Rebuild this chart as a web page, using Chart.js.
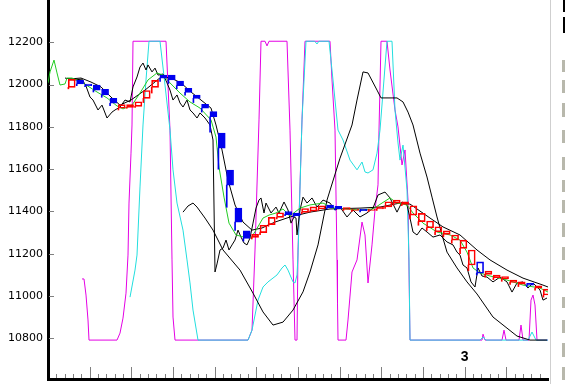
<!DOCTYPE html>
<html>
<head>
<meta charset="utf-8">
<script src="https://cdn.jsdelivr.net/npm/chart.js@4.4.1/dist/chart.umd.min.js"></script>
<style>
    html, body { margin: 0; padding: 0; background: #fff; }
    #wrap { width: 565px; height: 384px; }
</style>
</head>
<body>
<div id="wrap"><canvas id="chart" width="565" height="384"></canvas></div>
<script>
// y axis labels
const yTicks = [10800, 11000, 11200, 11400, 11600, 11800, 12000, 12200];
// date label on the time axis (axis unit = one bar)
const dayLabelAt = [50];
const dayLabelText = ['3'];

// candles
const candleX = [2.85, 3.85, 4.85, 5.85, 6.85, 7.85, 8.85, 9.85, 10.85, 11.85,
    12.85, 13.85, 14.85, 15.85, 16.85, 17.85, 18.85, 19.85, 20.85, 21.85,
    22.85, 23.85, 24.85, 25.85, 26.85, 27.85, 28.85, 29.85, 30.85, 31.85,
    32.85, 33.85, 34.85, 35.85, 36.85, 37.85, 38.85, 39.85, 40.85, 41.85,
    42.85, 43.85, 44.85, 45.85, 46.85, 47.85, 48.85, 49.85, 50.85, 51.85,
    52.85, 53.85, 54.85, 55.85, 56.85, 57.85, 58.85, 59.85];
const candleTop = [12025, 12020, 12003, 11998, 11978, 11935, 11905, 11905, 11919, 11972,
    12020, 12045, 12045, 12017, 11982, 11951, 11907, 11872, 11771, 11596,
    11416, 11309, 11292, 11335, 11372, 11394, 11400, 11393, 11414, 11422,
    11427, 11430, 11424, 11418, 11412, 11412, 11412, 11422, 11446, 11454,
    11446, 11427, 11391, 11355, 11328, 11308, 11289, 11265, 11218, 11162,
    11118, 11099, 11092, 11076, 11068, 11060, 11049, 11033];
const candleBottom = [11987, 12003, 11995, 11974, 11951, 11912, 11888, 11892, 11897, 11935,
    11987, 12030, 12022, 11995, 11963, 11935, 11888, 11848, 11700, 11525,
    11350, 11273, 11278, 11300, 11338, 11372, 11385, 11380, 11396, 11402,
    11412, 11418, 11413, 11410, 11405, 11404, 11405, 11412, 11422, 11439,
    11434, 11383, 11352, 11323, 11304, 11292, 11265, 11226, 11147, 11108,
    11103, 11087, 11081, 11065, 11056, 11052, 11037, 11005];
const candleLow = [11980, 11995, 11990, 11965, 11940, 11900, 11880, 11888, 11892, 11915,
    11960, 12015, 12005, 11980, 11950, 11915, 11870, 11775, 11600, 11420,
    11310, 11260, 11270, 11290, 11330, 11365, 11380, 11375, 11390, 11398,
    11405, 11412, 11408, 11405, 11400, 11398, 11400, 11405, 11415, 11430,
    11428, 11365, 11335, 11310, 11290, 11280, 11250, 11200, 11120, 11100,
    11090, 11078, 11070, 11055, 11045, 11045, 11028, 10995];
const candleKind = ['up', 'down', 'down', 'down', 'down', 'down', 'up', 'up', 'up', 'up',
    'up', 'down', 'down', 'down', 'down', 'down', 'down', 'down', 'down', 'down',
    'down', 'down', 'up', 'up', 'up', 'up', 'down', 'down', 'up', 'up',
    'up', 'down', 'down', 'up', 'up', 'down', 'up', 'up', 'up', 'up',
    'up', 'up', 'up', 'up', 'up', 'up', 'up', 'up', 'up', 'hollow',
    'up', 'up', 'up', 'up', 'up', 'down', 'up', 'up'];

// price (black, jagged)
const priceLine = [[2.04, 12031], [3.24, 12022], [4.08, 12026], [4.56, 11993], [5.04, 11941], [5.4, 11927],
    [6.0, 11880], [6.48, 11903], [7.08, 11842], [7.68, 11870], [8.04, 11880], [8.64, 11894], [9.24, 11927],
    [9.84, 11918], [10.2, 11989], [10.68, 12036], [11.04, 12083], [11.4, 12102], [11.76, 12069], [12.0, 12093],
    [12.48, 12060], [12.84, 12078], [13.2, 12045], [13.8, 12050], [14.28, 12008], [14.64, 11974], [15.0, 11927],
    [15.48, 11951], [15.84, 11913], [16.2, 11894], [16.68, 11927], [17.04, 11880], [17.4, 11866], [17.88, 11842],
    [18.24, 11866], [18.84, 11842], [19.44, 11809], [19.8, 11738], [20.04, 11114], [20.28, 11152], [20.64, 11218],
    [21.0, 11227], [21.36, 11265], [21.72, 11218], [22.08, 11242], [22.44, 11265], [22.8, 11312], [23.16, 11279],
    [23.52, 11251], [23.88, 11242], [24.24, 11275], [24.6, 11345], [24.96, 11416], [25.32, 11454], [25.56, 11464],
    [25.92, 11393], [26.16, 11440], [26.76, 11393], [27.36, 11421], [27.72, 11393], [28.32, 11445], [28.8, 11407],
    [29.16, 11345], [29.52, 11374], [29.76, 11369], [29.88, 11289], [30.24, 11407], [30.6, 11468], [31.08, 11440],
    [31.68, 11464], [32.28, 11421], [33.0, 11454], [33.84, 11440], [34.44, 11407], [35.04, 11421], [35.88, 11374],
    [36.6, 11407], [37.44, 11374], [38.28, 11393], [39.0, 11416], [39.6, 11478], [40.44, 11492], [41.04, 11464],
    [41.88, 11397], [42.48, 11445], [43.08, 11431], [43.44, 11369], [43.8, 11303], [44.28, 11289], [44.88, 11322],
    [45.48, 11303], [46.2, 11279], [47.04, 11289], [47.88, 11256], [48.6, 11242], [49.08, 11208], [49.44, 11194],
    [49.8, 11147], [50.28, 11133], [50.76, 11067], [51.24, 11043], [51.6, 11133], [52.08, 11095], [52.68, 11090],
    [53.4, 11067], [54.24, 11090], [55.08, 11067], [55.68, 11019], [56.28, 11062], [57.0, 11067], [57.6, 11038],
    [58.2, 11062], [59.04, 11029], [59.4, 10981], [59.88, 10991]];

// moving average (green)
const avgLine = [[0, 12008], [0.24, 12060], [0.72, 12116], [1.08, 12055], [1.44, 11998], [2.04, 12003],
    [2.28, 12031], [2.88, 12031], [4.2, 12008], [5.88, 11965], [7.08, 11937], [8.28, 11899], [9.0, 11885],
    [10.08, 11903], [11.04, 11960], [12.0, 12022], [13.08, 12055], [13.8, 12045], [14.64, 12008], [15.84, 11960],
    [17.04, 11918], [18.24, 11889], [19.56, 11833], [20.16, 11752], [20.52, 11610], [21.12, 11468], [21.72, 11345],
    [22.56, 11289], [23.52, 11279], [24.36, 11275], [24.96, 11312], [25.8, 11369], [26.52, 11383], [27.36, 11393],
    [28.2, 11412], [29.04, 11379], [30.24, 11416], [31.44, 11431], [33.0, 11440], [34.2, 11416], [35.88, 11412],
    [37.44, 11407], [39.0, 11412], [40.08, 11440], [41.04, 11464], [41.88, 11440], [43.08, 11431], [43.8, 11393],
    [45.0, 11345], [46.68, 11303], [48.24, 11289], [49.44, 11265], [50.28, 11208], [51.0, 11133], [51.84, 11109],
    [53.04, 11095], [55.08, 11076], [57.0, 11052], [59.04, 11038], [60.0, 11019]];

// smooth band (black)
const bandLine = [[2.4, 12026], [3.96, 12031], [5.16, 12012], [6.36, 11989], [7.56, 11941], [8.64, 11903],
    [9.96, 11927], [11.64, 11974], [13.56, 12036], [14.76, 12031], [15.96, 12008], [17.16, 11965], [18.36, 11927],
    [19.56, 11889], [20.16, 11809], [20.88, 11691], [21.6, 11549], [22.44, 11431], [23.4, 11350], [24.48, 11312],
    [25.68, 11322], [27.24, 11350], [29.04, 11374], [31.44, 11397], [33.84, 11412], [37.44, 11416], [39.84, 11421],
    [42.24, 11440], [43.44, 11435], [45.84, 11369], [47.4, 11327], [49.44, 11289], [51.48, 11218], [53.04, 11171],
    [55.08, 11123], [57.0, 11085], [59.4, 11052], [60.0, 11043]];

// oscillator (black, smooth)
const oscBlack = [[16.2, 11397], [16.8, 11426], [17.4, 11440], [17.88, 11421], [18.84, 11369], [19.8, 11312],
    [21.0, 11218], [23.04, 11123], [24.6, 11014], [25.8, 10925], [27.0, 10863], [28.2, 10877], [29.4, 10934],
    [30.6, 11020], [31.44, 11114], [32.4, 11242], [33.48, 11454], [35.04, 11652], [36.48, 11809], [37.08, 11927],
    [37.8, 12060], [38.4, 12055], [39.48, 11974], [39.96, 11937], [41.88, 11937], [42.6, 11918], [43.2, 11870],
    [43.8, 11809], [44.64, 11676], [45.48, 11563], [46.08, 11468], [46.68, 11374], [47.28, 11289], [47.88, 11208],
    [49.08, 11133], [50.28, 11067], [51.48, 11010], [53.4, 10901], [56.28, 10811], [57.84, 10792], [59.88, 10792]];

// oscillator (cyan)
const oscCyan = [[9.84, 10995], [10.44, 11123], [10.68, 11194], [11.04, 11516], [11.4, 11809], [11.76, 12022],
    [12.12, 12205], [13.44, 12205], [14.04, 11998], [14.64, 11785], [15.0, 11597], [15.48, 11440], [16.2, 11312],
    [16.68, 11171], [17.04, 11062], [17.4, 10934], [18.0, 10792], [24.0, 10792], [24.48, 10839], [25.2, 10981],
    [25.8, 11043], [26.4, 11067], [27.48, 11100], [28.08, 11133], [28.44, 11147], [28.8, 11123], [29.4, 11067],
    [29.64, 11062], [29.88, 11100], [30.0, 11194], [30.48, 11833], [30.96, 12205], [32.0, 12205], [32.28, 12192],
    [32.5, 12205], [33.72, 12205], [34.2, 12022], [34.8, 11785], [35.4, 11738], [36.24, 11643], [37.08, 11597],
    [37.68, 11634], [38.04, 11587], [38.4, 11582], [39.0, 11597], [39.48, 11676], [39.84, 11785], [40.68, 12205],
    [41.28, 12205], [41.64, 11880], [42.0, 11724], [42.24, 11643], [42.6, 11714], [43.08, 11502], [43.32, 11171],
    [43.44, 10792], [51.84, 10792], [52.2, 10806], [52.56, 10792], [57.6, 10792], [58.08, 10830], [58.56, 10792],
    [60.0, 10792]];

// oscillator (magenta)
const oscMagenta = [[4.08, 11081], [4.32, 11081], [4.56, 11005], [4.8, 10887], [4.92, 10792], [8.28, 10792],
    [8.64, 10825], [9.0, 10896], [9.36, 11014], [9.6, 11194], [9.72, 11440], [9.96, 11676], [10.08, 11809],
    [10.2, 12205], [14.16, 12205], [14.64, 11785], [14.88, 11171], [15.0, 10901], [15.24, 10792], [24.0, 10792],
    [24.48, 10839], [24.84, 11218], [25.32, 11833], [25.56, 12205], [26.04, 12205], [26.28, 12183], [26.52, 12205],
    [28.68, 12205], [29.04, 11785], [29.4, 11171], [29.64, 10792], [29.88, 10792], [30.0, 11218], [30.48, 11833],
    [30.84, 12205], [33.84, 12205], [34.08, 12022], [34.44, 11785], [34.68, 11171], [34.74, 10967], [34.8, 10792],
    [35.76, 10792], [36.0, 10887], [36.48, 11114], [37.08, 11171], [37.68, 11350], [38.04, 11289], [38.4, 11062],
    [38.88, 11242], [39.24, 11407], [39.6, 11526], [39.72, 11785], [39.96, 12205], [40.68, 12205], [41.04, 12069],
    [41.64, 11880], [42.0, 11800], [42.48, 11620], [42.84, 11691], [43.2, 11454], [43.44, 10792], [52.08, 10792],
    [52.2, 10820], [52.44, 10792], [54.48, 10792], [54.72, 10839], [54.96, 10792], [56.52, 10792], [56.76, 10863],
    [57.0, 10792], [57.72, 10792], [57.96, 10981], [58.2, 11005], [58.44, 10958], [58.68, 10792], [60.0, 10792]];

const boxLine = { up: '#ff0000', down: '#0000ee', hollow: '#0000ee' };
const boxFill = { up: 'rgba(0,0,0,0)', down: '#0000ee', hollow: 'rgba(0,0,0,0)' };

function lineSet(label, pts, color, order) {
    return {
        type: 'line',
        label: label,
        data: pts.map(p => ({ x: p[0], y: p[1] })),
        borderColor: color,
        borderWidth: 1,
        pointRadius: 0,
        tension: 0,
        fill: false,
        order: order
    };
}

// tick marks, date label and the cut-off panel on the right
const axisMarks = {
    id: 'axisMarks',
    afterDraw(chart) {
        const { ctx, chartArea: a, scales: { x, y } } = chart;
        ctx.save();
        ctx.strokeStyle = '#808080';
        ctx.lineWidth = 1;
        ctx.beginPath();
        yTicks.forEach(v => {
            const py = Math.round(y.getPixelForValue(v)) + 0.5;
            ctx.moveTo(a.left + 1, py);
            ctx.lineTo(a.left + 6, py);
        });
        for (let i = 1; i < 60; i++) {
            const px = Math.round(x.getPixelForValue(i)) + 0.5;
            const len = i % 5 === 0 ? 11 : 4;
            ctx.moveTo(px, a.bottom - 1 - len);
            ctx.lineTo(px, a.bottom - 1);
        }
        ctx.stroke();

        ctx.fillStyle = '#000';
        ctx.font = 'bold 14px "Liberation Sans", Arial, sans-serif';
        ctx.textAlign = 'center';
        ctx.textBaseline = 'middle';
        dayLabelAt.forEach((v, i) => ctx.fillText(dayLabelText[i], x.getPixelForValue(v), a.bottom - 22));

        // side panel edge
        ctx.strokeStyle = '#cfcfcf';
        ctx.beginPath();
        ctx.moveTo(550.5, 0);
        ctx.lineTo(550.5, 384);
        ctx.stroke();
        ctx.fillStyle = '#000';
        ctx.fillRect(563, 0, 2, 12);
        ctx.fillRect(563, 17, 2, 16);
        ctx.fillStyle = '#b8b8ac';
        [[60, 72], [80, 93], [103, 117], [130, 143], [157, 170], [180, 192], [200, 213], [223, 237],
            [247, 260], [270, 283], [297, 308], [320, 333], [343, 357], [367, 380]].forEach(r => {
            ctx.fillRect(562, r[0], 3, r[1] - r[0]);
        });
        ctx.restore();
    }
};

new Chart(document.getElementById('chart'), {
    type: 'line',
    data: {
        datasets: [
            {
                type: 'bar',
                label: 'box',
                stack: 'c',
                order: 0,
                data: candleX.map((cx, i) => ({ x: cx, y: [candleBottom[i], candleTop[i]] })),
                backgroundColor: candleKind.map(k => boxFill[k]),
                borderColor: candleKind.map(k => boxLine[k]),
                borderWidth: 1,
                borderSkipped: false,
                barThickness: 7
            },
            {
                type: 'bar',
                label: 'wick',
                stack: 'c',
                order: 1,
                data: candleX.map((cx, i) => ({ x: cx - 0.4, y: [candleLow[i], candleBottom[i]] })),
                backgroundColor: candleKind.map(k => boxLine[k]),
                borderWidth: 0,
                barThickness: 1
            },
            lineSet('average', avgLine, '#22cc22', 2),
            lineSet('band', bandLine, '#000000', 3),
            lineSet('price', priceLine, '#000000', 4),
            lineSet('oscBlack', oscBlack, '#000000', 5),
            lineSet('oscCyan', oscCyan, '#22dede', 6),
            lineSet('oscMagenta', oscMagenta, '#e400e4', 7)
        ]
    },
    options: {
        responsive: false,
        devicePixelRatio: 1,
        animation: false,
        events: [],
        layout: { padding: { left: 0, right: 17, top: 0, bottom: 5 } },
        plugins: { legend: { display: false }, tooltip: { enabled: false } },
        scales: {
            x: {
                type: 'linear',
                min: 0,
                max: 60,
                offset: false,
                grid: { display: false, drawTicks: false },
                ticks: { display: false },
                border: { display: true, color: '#000', width: 3 },
                afterFit: s => {
                    s.height = 0;
                    s.paddingLeft = 0;
                    s.paddingRight = 0;
                }
            },
            y: {
                type: 'linear',
                min: 10608,
                max: 12400,
                stacked: false,
                beginAtZero: false,
                grid: { display: false, drawTicks: false },
                border: { display: true, color: '#000', width: 3 },
                ticks: {
                    color: '#000',
                    font: { family: 'DejaVu Sans', size: 11 },
                    padding: 5,
                    callback: v => String(v)
                },
                afterBuildTicks: s => { s.ticks = yTicks.map(v => ({ value: v })); },
                afterFit: s => {
                    s.width = 48;
                    s.paddingTop = 0;
                    s.paddingBottom = 0;
                }
            }
        }
    },
    plugins: [axisMarks]
});
</script>
</body>
</html>
